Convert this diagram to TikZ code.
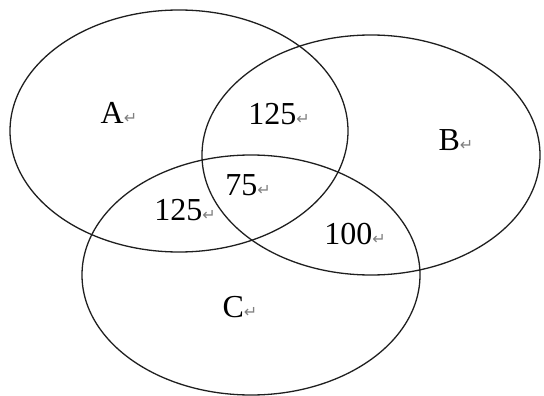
\documentclass[tikz,border=0pt]{standalone}
\usepackage{xcolor}
\usepackage{fontspec}
\setmainfont{Liberation Serif}
\newfontfamily\markfont{DejaVu Sans}
\usepackage{tikz}
\usetikzlibrary{positioning}
\definecolor{setline}{rgb}{0.12, 0.12, 0.12}
\definecolor{markgray}{rgb}{0.5, 0.5, 0.5}
\newcommand{\retmark}{\textcolor{markgray}{\markfont\fontsize{16}{18}\selectfont ↵}}
\tikzset{
  setring/.style={draw=setline, line width=1.3pt},
  setlabel/.style={inner sep=0pt, font=\fontsize{32}{34}\selectfont}
}

\begin{document}
\begin{tikzpicture}[x=1pt, y=-1pt]
    \useasboundingbox (0,0) rectangle (544,396);
    % the three sets
    \draw[setring] (179,131) ellipse [x radius=169, y radius=121];
    \draw[setring] (371,155) ellipse [x radius=169, y radius=120];
    \draw[setring] (251,275) ellipse [x radius=169, y radius=120];
    % region labels
    \node[setlabel] (labA) at (119,113) {A\retmark};
    \node[setlabel] (labAB) at (279,114) {125\retmark};
    \node[setlabel] (labB) at (456,140) {B\retmark};
    \node[setlabel] (labABC) at (248,185) {75\retmark};
    \node[setlabel] (labAC) at (185,210) {125\retmark};
    \node[setlabel] (labBC) at (355,234) {100\retmark};
    \node[setlabel] (labC) at (240,307) {C\retmark};
  \end{tikzpicture}
\end{document}
